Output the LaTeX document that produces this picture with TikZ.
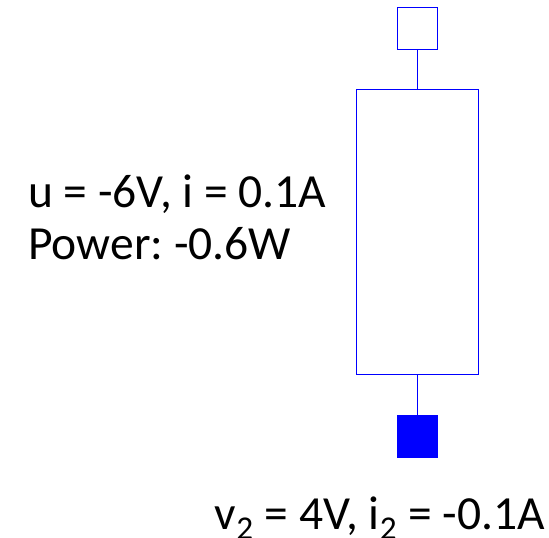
\documentclass[tikz,border=0pt]{standalone}
\usepackage{xcolor}
\usepackage{fontspec}
\setmainfont{Carlito}
\usepackage{tikz}
\usetikzlibrary{calc}
\frenchspacing

\tikzset{
    pinbox/.style={draw=blue, line width=0.025cm, minimum width=1.025cm, minimum height=1.040cm, inner sep=0cm},
    bodybox/.style={draw=blue, line width=0.025cm, minimum width=3.065cm, minimum height=7.140cm, inner sep=0cm},
    wire/.style={draw=blue, line width=0.028cm},
    info/.style={inner sep=0cm, align=left, font=\fontsize{33.8}{37}\selectfont}
}

\begin{document}
\begin{tikzpicture}
        \useasboundingbox (0.000000,0.000000) rectangle (13.725000,-13.450000);
        
        % Drawing pin p (top)
        \node [pinbox] (pinp) at (10.437500,-0.705000) {};%
        
        % Drawing component body
        \node [bodybox] (body) at (10.437500,-5.805000) {};%
        
        % Drawing pin n (bottom, filled)
        \node [pinbox, fill=blue] (pinn) at (10.437500,-10.910000) {};%
        
        % Drawing wires
        \draw [wire] (pinp.south) -- (body.north);%
        \draw [wire] (body.south) -- (pinn.north);%
        
        % Marking voltage, current and power
        \node [info, anchor=base west] (values) at (0.700000,-6.500000) {u = -6V, i = 0.1A\\Power: -0.6W};%
        
        % Marking pin n values
        \node [info, anchor=base east] (pinvalues) at (13.625000,-13.250000) {v\textsubscript{2} = 4V, i\textsubscript{2} = -0.1A};%
    \end{tikzpicture}
\end{document}
